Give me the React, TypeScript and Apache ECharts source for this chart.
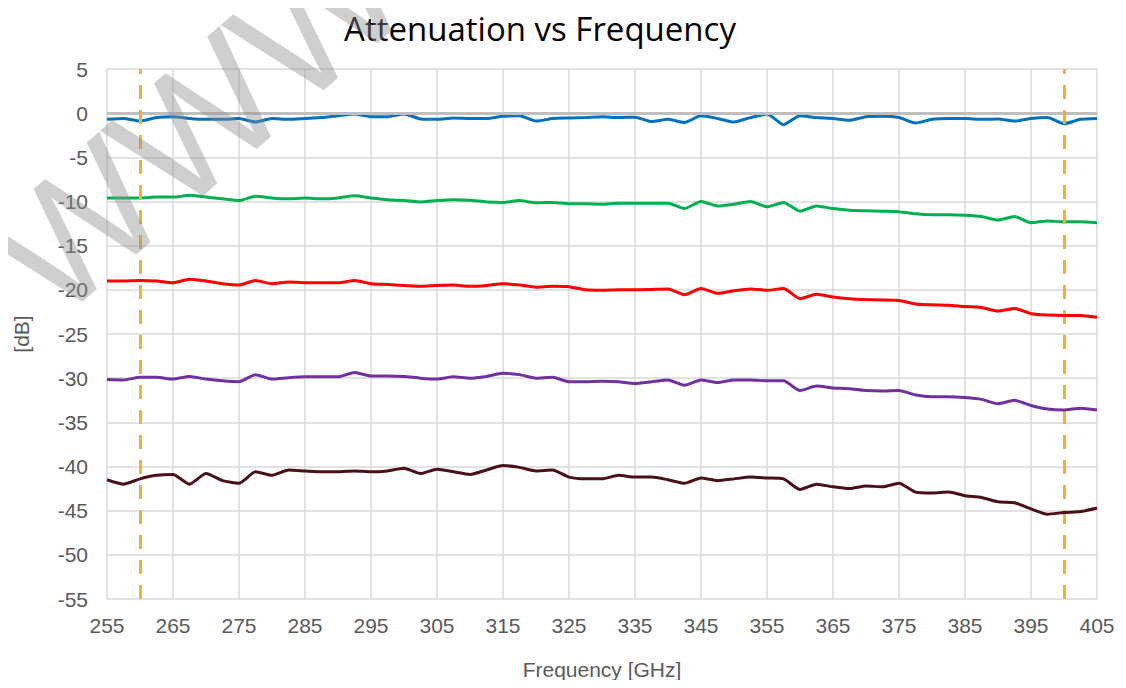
import React, { useEffect, useRef } from "react";
import * as echarts from "echarts";

const freqGHz = [
  255, 257.5, 260, 262.5, 265, 267.5, 270, 272.5, 275, 277.5,
  280, 282.5, 285, 287.5, 290, 292.5, 295, 297.5, 300, 302.5,
  305, 307.5, 310, 312.5, 315, 317.5, 320, 322.5, 325, 327.5,
  330, 332.5, 335, 337.5, 340, 342.5, 345, 347.5, 350, 352.5,
  355, 357.5, 360, 362.5, 365, 367.5, 370, 372.5, 375, 377.5,
  380, 382.5, 385, 387.5, 390, 392.5, 395, 397.5, 400, 402.5, 405,
];

const blueDb = [
  -0.7, -0.6, -0.9, -0.5, -0.4, -0.6, -0.7, -0.7, -0.6, -1.0,
  -0.6, -0.7, -0.6, -0.5, -0.3, -0.1, -0.4, -0.4, -0.1, -0.65,
  -0.7, -0.55, -0.6, -0.6, -0.35, -0.3, -0.9, -0.6, -0.55, -0.5,
  -0.4, -0.5, -0.45, -0.95, -0.7, -1.05, -0.3, -0.6, -1.0, -0.5,
  -0.1, -1.3, -0.3, -0.5, -0.6, -0.8, -0.4, -0.35, -0.5, -1.1,
  -0.7, -0.6, -0.6, -0.7, -0.65, -0.9, -0.6, -0.5, -1.2, -0.7, -0.6,
];

const greenDb = [
  -9.6, -9.6, -9.6, -9.5, -9.5, -9.3, -9.5, -9.7, -9.9, -9.4,
  -9.6, -9.7, -9.6, -9.7, -9.6, -9.35, -9.6, -9.8, -9.9, -10.05,
  -9.9, -9.8, -9.85, -10.05, -10.1, -9.9, -10.15, -10.1, -10.25, -10.25,
  -10.3, -10.2, -10.2, -10.2, -10.2, -10.8, -10.0, -10.5, -10.3, -10.0,
  -10.6, -10.1, -11.1, -10.5, -10.8, -11.0, -11.05, -11.1, -11.15, -11.4,
  -11.5, -11.5, -11.55, -11.7, -12.1, -11.7, -12.4, -12.2, -12.3, -12.3, -12.4,
];

const redDb = [
  -19.0, -19.0, -18.95, -19.0, -19.2, -18.8, -19.0, -19.3, -19.45, -18.95,
  -19.3, -19.1, -19.2, -19.2, -19.2, -18.95, -19.3, -19.4, -19.5, -19.6,
  -19.5, -19.45, -19.6, -19.5, -19.3, -19.45, -19.7, -19.6, -19.65, -20.0,
  -20.05, -20.0, -20.0, -19.95, -19.9, -20.55, -19.85, -20.4, -20.1, -19.9,
  -20.05, -19.85, -21.0, -20.5, -20.8, -21.0, -21.1, -21.15, -21.2, -21.6,
  -21.7, -21.75, -21.9, -22.0, -22.4, -22.1, -22.7, -22.85, -22.9, -22.9, -23.1,
];

const purpleDb = [
  -30.15, -30.2, -29.9, -29.9, -30.1, -29.8, -30.1, -30.3, -30.4, -29.6,
  -30.1, -29.95, -29.85, -29.85, -29.85, -29.35, -29.75, -29.75, -29.8, -30.0,
  -30.1, -29.85, -30.0, -29.8, -29.45, -29.6, -30.0, -29.9, -30.4, -30.4,
  -30.35, -30.4, -30.6, -30.4, -30.2, -30.8, -30.2, -30.5, -30.2, -30.2,
  -30.3, -30.3, -31.4, -30.9, -31.1, -31.2, -31.4, -31.45, -31.4, -31.9,
  -32.1, -32.1, -32.2, -32.4, -32.9, -32.5, -33.1, -33.5, -33.6, -33.4, -33.6,
];

const maroonDb = [
  -41.5, -42.0, -41.4, -41.0, -40.9, -42.0, -40.8, -41.6, -41.9, -40.6,
  -41.0, -40.4, -40.5, -40.6, -40.6, -40.5, -40.6, -40.5, -40.2, -40.8,
  -40.3, -40.6, -40.9, -40.4, -39.9, -40.1, -40.5, -40.4, -41.2, -41.4,
  -41.4, -41.0, -41.2, -41.2, -41.5, -41.9, -41.3, -41.6, -41.4, -41.2,
  -41.3, -41.4, -42.6, -42.0, -42.3, -42.5, -42.2, -42.3, -41.9, -42.9,
  -43.0, -42.9, -43.3, -43.5, -44.0, -44.1, -44.8, -45.4, -45.2, -45.1, -44.7,
];

const bandEdgesGHz = [260, 400];
const zeroLineDb = 0;

const seriesDefs = [
  { name: "S1", color: "#0070C0", values: blueDb },
  { name: "S2", color: "#00B050", values: greenDb },
  { name: "S3", color: "#FF0000", values: redDb },
  { name: "S4", color: "#7030A0", values: purpleDb },
  { name: "S5", color: "#4A1016", values: maroonDb },
];

export default function App() {
  const ref = useRef<HTMLDivElement>(null);
  useEffect(() => {
    if (!ref.current) return;
    const chart = echarts.init(ref.current, null, { renderer: "svg" });
    const axisFont = "'Liberation Sans', Arial, sans-serif";
    const series: any[] = seriesDefs.map((s, i) => ({
      name: s.name,
      type: "line",
      showSymbol: false,
      symbol: "none",
      smooth: 0.2,
      z: 3 + i,
      lineStyle: { color: s.color, width: 3 },
      data: freqGHz.map((f, k) => [f, s.values[k]]),
    }));
    series.push({
      name: "refs",
      type: "line",
      data: [],
      z: 2,
      markLine: {
        silent: true,
        symbol: "none",
        label: { show: false },
        lineStyle: { color: "#BFBFBF", width: 3, type: "solid" },
        data: [{ yAxis: zeroLineDb }],
      },
    });
    series.push({
      name: "bands",
      type: "line",
      data: [],
      z: 10,
      markLine: {
        silent: true,
        symbol: "none",
        label: { show: false },
        lineStyle: { color: "#F5AD3C", width: 3, type: [14, 11] },
        data: bandEdgesGHz.map((f) => ({ xAxis: f })),
      },
    });
    chart.setOption({
      animation: false,
      backgroundColor: "#ffffff",
      grid: { left: 107, right: 29, top: 69, bottom: 89, containLabel: false },
      xAxis: {
        type: "value",
        min: 255,
        max: 405,
        interval: 10,
        name: "Frequency [GHz]",
        nameLocation: "middle",
        nameGap: 70,
        nameTextStyle: { color: "#595959", fontSize: 21, fontFamily: axisFont, verticalAlign: "middle" },
        axisLine: { show: false, onZero: false },
        axisTick: { show: false },
        axisLabel: { color: "#595959", fontSize: 21, fontFamily: axisFont, margin: 16 },
        splitLine: { show: true, lineStyle: { color: "#D9D9D9", width: 1.5 } },
      },
      yAxis: {
        type: "value",
        min: -55,
        max: 5,
        interval: 5,
        name: "[dB]",
        nameLocation: "middle",
        nameGap: 75,
        nameRotate: 90,
        nameTextStyle: { color: "#595959", fontSize: 21, fontFamily: axisFont },
        axisLine: { show: false },
        axisTick: { show: false },
        axisLabel: { color: "#595959", fontSize: 21, fontFamily: axisFont, margin: 19 },
        splitLine: { show: true, lineStyle: { color: "#D9D9D9", width: 1.5 } },
      },
      graphic: [
        {
          type: "text",
          x: 540,
          y: 28,
          z: 20,
          style: {
            text: "Attenuation vs Frequency",
            fill: "#000000",
            fontSize: 33,
            fontFamily: "'Open Sans', 'Noto Sans', sans-serif",
            align: "center",
            verticalAlign: "middle",
          },
        },
        {
          type: "text",
          x: 198,
          y: 122,
          rotation: 0.72,
          z: 100,
          style: {
            text: "WWW",
            fill: "rgba(140,140,140,0.42)",
            fontSize: 170,
            fontWeight: "normal",
            fontFamily: "'Liberation Sans', Arial, sans-serif",
            align: "center",
            verticalAlign: "middle",
          },
        },
      ],
      series,
    });
    return () => chart.dispose();
  }, []);
  return <div ref={ref} style={{ width: 1126, height: 688, margin: -8 }} />;
}
